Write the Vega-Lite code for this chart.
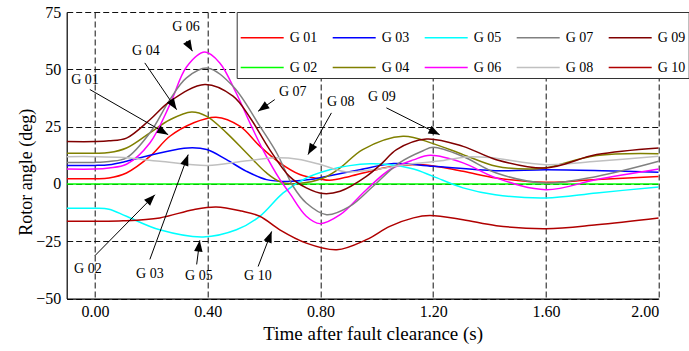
{
  "$schema": "https://vega.github.io/schema/vega-lite/v6.json",
  "width": 592,
  "height": 286.6,
  "autosize": {"type": "none"},
  "padding": {"left": 66.7, "top": 12, "right": 30.3, "bottom": 52.4},
  "background": "white",
  "config": {
    "font": "Liberation Serif",
    "view": {"stroke": null},
    "style": {"guide-label": {"font": "Liberation Serif", "fill": "black"}, "guide-title": {"font": "Liberation Serif", "fill": "black"}},
    "axis": {"labelFont": "Liberation Serif", "titleFont": "Liberation Serif", "titleFontWeight": "normal", "labelColor": "black", "titleColor": "black"}
  },
  "datasets": {
    "curves": [
      {"g":"G 01","t":-0.1,"v":2.3},{"g":"G 01","t":0,"v":2.3},{"g":"G 01","t":0.05,"v":2.6},{"g":"G 01","t":0.112,"v":4.8},{"g":"G 01","t":0.195,"v":12},{"g":"G 01","t":0.266,"v":20.8},{"g":"G 01","t":0.349,"v":26.6},{"g":"G 01","t":0.43,"v":29.1},{"g":"G 01","t":0.514,"v":25.2},{"g":"G 01","t":0.585,"v":16.5},{"g":"G 01","t":0.656,"v":9.2},{"g":"G 01","t":0.727,"v":4.1},{"g":"G 01","t":0.798,"v":2.2},{"g":"G 01","t":0.833,"v":1.6},{"g":"G 01","t":0.904,"v":3.3},{"g":"G 01","t":0.987,"v":5.9},{"g":"G 01","t":1.058,"v":7.7},{"g":"G 01","t":1.164,"v":8.4},{"g":"G 01","t":1.306,"v":5.5},{"g":"G 01","t":1.424,"v":2.6},{"g":"G 01","t":1.6,"v":0.7},{"g":"G 01","t":1.78,"v":1.9},{"g":"G 01","t":2.0,"v":3.3},
      {"g":"G 02","t":-0.1,"v":0},{"g":"G 02","t":1.0,"v":0},{"g":"G 02","t":2.0,"v":0},
      {"g":"G 03","t":-0.1,"v":8.1},{"g":"G 03","t":0,"v":8.1},{"g":"G 03","t":0.05,"v":8.4},{"g":"G 03","t":0.112,"v":9.9},{"g":"G 03","t":0.23,"v":13.5},{"g":"G 03","t":0.33,"v":15.7},{"g":"G 03","t":0.397,"v":15.0},{"g":"G 03","t":0.467,"v":10.6},{"g":"G 03","t":0.538,"v":5.5},{"g":"G 03","t":0.609,"v":1.9},{"g":"G 03","t":0.68,"v":1.1},{"g":"G 03","t":0.762,"v":1.9},{"g":"G 03","t":0.82,"v":3.3},{"g":"G 03","t":0.94,"v":6.2},{"g":"G 03","t":1.06,"v":8.9},{"g":"G 03","t":1.2,"v":7.7},{"g":"G 03","t":1.42,"v":5.8},{"g":"G 03","t":1.6,"v":6.2},{"g":"G 03","t":1.8,"v":5.8},{"g":"G 03","t":2.0,"v":5.1},
      {"g":"G 04","t":-0.1,"v":13.4},{"g":"G 04","t":0,"v":13.4},{"g":"G 04","t":0.05,"v":13.7},{"g":"G 04","t":0.112,"v":15.7},{"g":"G 04","t":0.195,"v":22.3},{"g":"G 04","t":0.266,"v":28},{"g":"G 04","t":0.343,"v":31.4},{"g":"G 04","t":0.397,"v":29.5},{"g":"G 04","t":0.467,"v":22.3},{"g":"G 04","t":0.538,"v":13.5},{"g":"G 04","t":0.609,"v":4.8},{"g":"G 04","t":0.66,"v":0.8},{"g":"G 04","t":0.72,"v":0.2},{"g":"G 04","t":0.81,"v":2.6},{"g":"G 04","t":0.87,"v":7},{"g":"G 04","t":0.95,"v":15},{"g":"G 04","t":1.093,"v":20.8},{"g":"G 04","t":1.2,"v":17.6},{"g":"G 04","t":1.306,"v":12.8},{"g":"G 04","t":1.424,"v":7.7},{"g":"G 04","t":1.543,"v":6.5},{"g":"G 04","t":1.6,"v":7.1},{"g":"G 04","t":1.78,"v":12.4},{"g":"G 04","t":2.0,"v":13.2},
      {"g":"G 05","t":-0.1,"v":-10.6},{"g":"G 05","t":0,"v":-10.6},{"g":"G 05","t":0.05,"v":-11},{"g":"G 05","t":0.112,"v":-14.1},{"g":"G 05","t":0.23,"v":-20},{"g":"G 05","t":0.384,"v":-23.1},{"g":"G 05","t":0.502,"v":-20},{"g":"G 05","t":0.585,"v":-14.1},{"g":"G 05","t":0.668,"v":-3.9},{"g":"G 05","t":0.75,"v":2.6},{"g":"G 05","t":0.833,"v":6.2},{"g":"G 05","t":0.904,"v":8},{"g":"G 05","t":0.975,"v":8.8},{"g":"G 05","t":1.046,"v":8.4},{"g":"G 05","t":1.13,"v":6.5},{"g":"G 05","t":1.2,"v":3.3},{"g":"G 05","t":1.306,"v":-1.7},{"g":"G 05","t":1.42,"v":-4.7},{"g":"G 05","t":1.6,"v":-6.1},{"g":"G 05","t":1.78,"v":-3.9},{"g":"G 05","t":2.0,"v":-1.3},
      {"g":"G 06","t":-0.1,"v":6.5},{"g":"G 06","t":0,"v":6.5},{"g":"G 06","t":0.05,"v":7},{"g":"G 06","t":0.112,"v":8.6},{"g":"G 06","t":0.195,"v":17.9},{"g":"G 06","t":0.266,"v":34.6},{"g":"G 06","t":0.325,"v":51},{"g":"G 06","t":0.39,"v":57.5},{"g":"G 06","t":0.443,"v":52.8},{"g":"G 06","t":0.5,"v":40},{"g":"G 06","t":0.556,"v":25},{"g":"G 06","t":0.6,"v":14},{"g":"G 06","t":0.656,"v":2},{"g":"G 06","t":0.69,"v":-3.9},{"g":"G 06","t":0.75,"v":-14.1},{"g":"G 06","t":0.798,"v":-17.3},{"g":"G 06","t":0.87,"v":-13.4},{"g":"G 06","t":0.963,"v":-2.5},{"g":"G 06","t":1.046,"v":6.2},{"g":"G 06","t":1.13,"v":10.5},{"g":"G 06","t":1.19,"v":12.5},{"g":"G 06","t":1.306,"v":9.2},{"g":"G 06","t":1.424,"v":2.6},{"g":"G 06","t":1.6,"v":-2.5},{"g":"G 06","t":1.78,"v":1.9},{"g":"G 06","t":2.0,"v":6.5},
      {"g":"G 07","t":-0.1,"v":9.4},{"g":"G 07","t":0,"v":9.4},{"g":"G 07","t":0.05,"v":9.8},{"g":"G 07","t":0.112,"v":11.4},{"g":"G 07","t":0.195,"v":22.3},{"g":"G 07","t":0.266,"v":36.8},{"g":"G 07","t":0.325,"v":46.3},{"g":"G 07","t":0.4,"v":50.5},{"g":"G 07","t":0.49,"v":42.6},{"g":"G 07","t":0.585,"v":25.2},{"g":"G 07","t":0.645,"v":13.5},{"g":"G 07","t":0.703,"v":-1},{"g":"G 07","t":0.75,"v":-8.3},{"g":"G 07","t":0.822,"v":-13.4},{"g":"G 07","t":0.904,"v":-9.8},{"g":"G 07","t":0.987,"v":-1},{"g":"G 07","t":1.08,"v":9.2},{"g":"G 07","t":1.164,"v":14.5},{"g":"G 07","t":1.2,"v":16},{"g":"G 07","t":1.306,"v":12},{"g":"G 07","t":1.424,"v":4.8},{"g":"G 07","t":1.6,"v":0.4},{"g":"G 07","t":1.78,"v":3.3},{"g":"G 07","t":2.0,"v":9.9},
      {"g":"G 08","t":-0.1,"v":11.9},{"g":"G 08","t":0,"v":11.9},{"g":"G 08","t":0.1,"v":11.5},{"g":"G 08","t":0.23,"v":9.9},{"g":"G 08","t":0.4,"v":8.1},{"g":"G 08","t":0.525,"v":9.9},{"g":"G 08","t":0.645,"v":11.4},{"g":"G 08","t":0.72,"v":10.8},{"g":"G 08","t":0.8,"v":8.5},{"g":"G 08","t":0.89,"v":5.3},{"g":"G 08","t":0.987,"v":6.2},{"g":"G 08","t":1.1,"v":8.4},{"g":"G 08","t":1.22,"v":10},{"g":"G 08","t":1.32,"v":11.8},{"g":"G 08","t":1.4,"v":11.5},{"g":"G 08","t":1.6,"v":8.4},{"g":"G 08","t":1.78,"v":9.9},{"g":"G 08","t":2.0,"v":12.1},
      {"g":"G 09","t":-0.1,"v":18.5},{"g":"G 09","t":0,"v":18.5},{"g":"G 09","t":0.05,"v":18.8},{"g":"G 09","t":0.112,"v":20},{"g":"G 09","t":0.195,"v":28},{"g":"G 09","t":0.266,"v":36},{"g":"G 09","t":0.39,"v":43.4},{"g":"G 09","t":0.49,"v":38.3},{"g":"G 09","t":0.55,"v":29},{"g":"G 09","t":0.62,"v":15},{"g":"G 09","t":0.69,"v":3.3},{"g":"G 09","t":0.75,"v":-1.7},{"g":"G 09","t":0.81,"v":-4.2},{"g":"G 09","t":0.87,"v":-3.2},{"g":"G 09","t":0.963,"v":3.3},{"g":"G 09","t":1.02,"v":9.2},{"g":"G 09","t":1.07,"v":15},{"g":"G 09","t":1.176,"v":19.6},{"g":"G 09","t":1.306,"v":16.4},{"g":"G 09","t":1.424,"v":10.6},{"g":"G 09","t":1.6,"v":7},{"g":"G 09","t":1.78,"v":12.8},{"g":"G 09","t":2.0,"v":15.7},
      {"g":"G 10","t":-0.1,"v":-16.3},{"g":"G 10","t":0,"v":-16.3},{"g":"G 10","t":0.1,"v":-16.1},{"g":"G 10","t":0.23,"v":-14.8},{"g":"G 10","t":0.349,"v":-11.2},{"g":"G 10","t":0.43,"v":-10},{"g":"G 10","t":0.52,"v":-11.8},{"g":"G 10","t":0.585,"v":-14.1},{"g":"G 10","t":0.656,"v":-20},{"g":"G 10","t":0.75,"v":-25.8},{"g":"G 10","t":0.858,"v":-28.7},{"g":"G 10","t":0.963,"v":-24.3},{"g":"G 10","t":1.046,"v":-18.5},{"g":"G 10","t":1.13,"v":-14.8},{"g":"G 10","t":1.188,"v":-13.8},{"g":"G 10","t":1.306,"v":-15.6},{"g":"G 10","t":1.424,"v":-18.2},{"g":"G 10","t":1.6,"v":-19.5},{"g":"G 10","t":1.78,"v":-17.8},{"g":"G 10","t":2.0,"v":-14.8}
    ],
    "notes": [
      {"label":"G 06","lt":0.323,"lv":68.3,"x1":0.325,"y1":62.3,"x2":0.346,"y2":57.9},
      {"label":"G 04","lt":0.181,"lv":57.8,"x1":0.177,"y1":52.8,"x2":0.29,"y2":32.4},
      {"label":"G 01","lt":-0.035,"lv":45.5,"x1":-0.018,"y1":41.2,"x2":0.26,"y2":21.5},
      {"label":"G 02","lt":-0.025,"lv":-37,"x1":0.0,"y1":-31.3,"x2":0.213,"y2":-4.7},
      {"label":"G 03","lt":0.195,"lv":-39.4,"x1":0.195,"y1":-32.9,"x2":0.331,"y2":12.8},
      {"label":"G 05","lt":0.369,"lv":-40.3,"x1":0.361,"y1":-35.1,"x2":0.372,"y2":-24.6},
      {"label":"G 10","lt":0.578,"lv":-40.3,"x1":0.579,"y1":-36,"x2":0.627,"y2":-20.7},
      {"label":"G 07","lt":0.702,"lv":40.3,"x1":0.638,"y1":36.8,"x2":0.579,"y2":31.7},
      {"label":"G 08","lt":0.872,"lv":35.9,"x1":0.839,"y1":31,"x2":0.756,"y2":12.8},
      {"label":"G 09","lt":1.018,"lv":38.1,"x1":1.034,"y1":33.2,"x2":1.223,"y2":21.5}
    ]
  },
  "layer": [
    {
      "data": {"name": "curves"},
      "mark": {"type": "line", "strokeWidth": 1.5, "interpolate": "catmull-rom", "clip": true},
      "encoding": {
        "x": {"field": "t", "type": "quantitative",
          "scale": {"domain": [-0.1, 2.0], "nice": false, "zero": false},
          "axis": {"title": "Time after fault clearance (s)", "values": [0, 0.4, 0.8, 1.2, 1.6, 2.0], "format": ".2f",
            "labelFont": "Liberation Serif", "titleFont": "Liberation Serif",
            "labelFontSize": 16, "titleFontSize": 19, "labelPadding": 5, "ticks": false,
            "domainColor": "black", "domainWidth": 1.2,
            "grid": true, "gridColor": "#111", "gridDash": [6, 3], "gridWidth": 1,
            "titleX": 306, "titleY": 34.5, "titleBaseline": "middle", "titleAlign": "center"}},
        "y": {"field": "v", "type": "quantitative",
          "scale": {"domain": [-50, 75], "nice": false, "zero": false},
          "axis": {"title": "Rotor angle (deg)", "values": [-50, -25, 0, 25, 50, 75],
            "labelFont": "Liberation Serif", "titleFont": "Liberation Serif",
            "labelFontSize": 16, "titleFontSize": 18, "labelPadding": 6, "ticks": false,
            "domainColor": "black", "domainWidth": 1.2,
            "grid": true, "gridColor": "#111", "gridDash": [6, 3], "gridWidth": 1,
            "titleX": -39.7, "titleY": 159.7, "titleBaseline": "middle", "titleAlign": "center"}},
        "color": {"field": "g", "type": "nominal",
          "scale": {"domain": ["G 01", "G 03", "G 05", "G 07", "G 09", "G 02", "G 04", "G 06", "G 08", "G 10"],
                    "range": ["#ff0000", "#0000ff", "#00ffff", "#808080", "#800000", "#00ff00", "#808000", "#ff00ff", "#c0c0c0", "#b00000"]},
          "legend": {"title": null, "orient": "none", "legendX": 170, "legendY": 0, "columns": 5, "direction": "horizontal",
            "symbolType": "stroke", "symbolSize": 1849, "symbolStrokeWidth": 1.5,
            "labelFont": "Liberation Serif", "labelFontSize": 14, "labelColor": "black", "labelOffset": 5,
            "columnPadding": 12, "rowPadding": 0, "padding": 3,
            "fillColor": "white", "strokeColor": "#333"}}
      }
    },
    {
      "data": {"name": "notes"},
      "mark": {"type": "rule", "color": "black", "strokeWidth": 1},
      "encoding": {
        "x": {"field": "x1", "type": "quantitative", "title": "Time after fault clearance (s)"},
        "y": {"field": "y1", "type": "quantitative", "title": "Rotor angle (deg)"},
        "x2": {"field": "x2"},
        "y2": {"field": "y2"}
      }
    },
    {
      "data": {"name": "notes"},
      "transform": [{"calculate": "atan2((datum.x2 - datum.x1) * 281.9, (datum.y2 - datum.y1) * 2.293) * 180 / PI", "as": "ang"}],
      "mark": {"type": "point", "shape": "M0,0L-0.38,1L0.38,1Z", "filled": true, "color": "black", "opacity": 1, "size": 500},
      "encoding": {
        "x": {"field": "x2", "type": "quantitative", "title": "Time after fault clearance (s)"},
        "y": {"field": "y2", "type": "quantitative", "title": "Rotor angle (deg)"},
        "angle": {"field": "ang", "type": "quantitative", "scale": null}
      }
    },
    {
      "data": {"name": "notes"},
      "mark": {"type": "text", "font": "Liberation Serif", "fontSize": 14, "color": "black", "align": "center", "baseline": "middle"},
      "encoding": {
        "x": {"field": "lt", "type": "quantitative", "title": "Time after fault clearance (s)"},
        "y": {"field": "lv", "type": "quantitative", "title": "Rotor angle (deg)"},
        "text": {"field": "label"}
      }
    }
  ]
}
